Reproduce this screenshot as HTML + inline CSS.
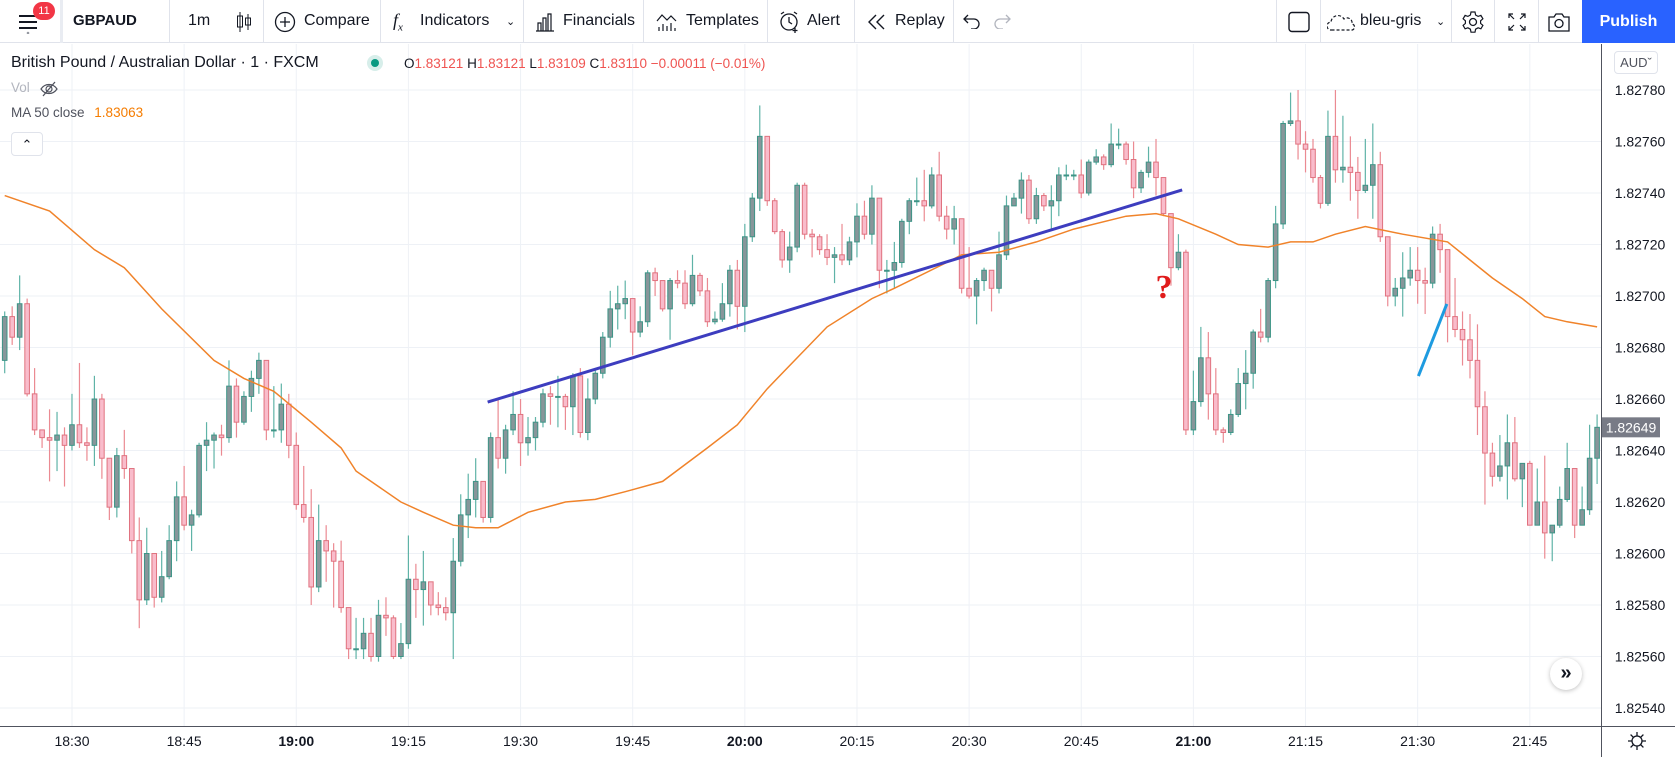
<!DOCTYPE html>
<html><head><meta charset="utf-8">
<style>
*{margin:0;padding:0;box-sizing:border-box}
body{width:1675px;height:757px;overflow:hidden;background:#fff;font-family:"Liberation Sans",sans-serif;color:#131722;position:relative}
.tb{position:absolute;left:0;top:0;width:1675px;height:43px;border-bottom:1px solid #e0e3eb;background:#fff}
.t{position:absolute;top:12px;font-size:16px;white-space:nowrap}
.sep{position:absolute;top:0;width:1px;height:43px;background:#e0e3eb}
.lg{position:absolute;white-space:nowrap}
</style></head><body>
<div class="tb">
  <svg style="position:absolute;left:18px;top:12px" width="22" height="22"><rect x="1" y="3" width="18" height="2" fill="#131722"/><rect x="1" y="9" width="18" height="2" fill="#131722"/><rect x="1" y="15" width="18" height="2" fill="#131722"/><circle cx="10" cy="21" r="1.3" fill="#9598a1"/></svg>
  <div style="position:absolute;left:33px;top:2px;width:22px;height:18px;border-radius:9px;background:#f23645;color:#fff;font-size:11px;text-align:center;line-height:18px">11</div>
  <div class="sep" style="left:60px;width:3px;background:#e9ecf2"></div>
  <span class="t" style="left:73px;font-weight:bold;font-size:15px">GBPAUD</span>
  <div class="sep" style="left:169px"></div>
  <span class="t" style="left:188px">1m</span>
  <svg style="position:absolute;left:236px;top:11px" width="16" height="22"><line x1="4" y1="1" x2="4" y2="21" stroke="#131722"/><rect x="1.5" y="5" width="5" height="11" fill="none" stroke="#131722"/><line x1="12" y1="3" x2="12" y2="19" stroke="#131722"/><rect x="9.5" y="7" width="5" height="7" fill="none" stroke="#131722"/></svg>
  <div class="sep" style="left:263px"></div>
  <svg style="position:absolute;left:274px;top:11px" width="22" height="22"><circle cx="11" cy="11" r="9.5" fill="none" stroke="#131722" stroke-width="1.3"/><path d="M11 6v10M6 11h10" stroke="#131722" stroke-width="1.3"/></svg>
  <span class="t" style="left:304px">Compare</span>
  <div class="sep" style="left:380px"></div>
  <span class="t" style="left:393px;font-style:italic;font-family:'Liberation Serif',serif;font-size:18px;top:10px">f<sub style="font-size:11px">x</sub></span>
  <span class="t" style="left:420px">Indicators</span>
  <span class="t" style="left:506px;font-size:11px;top:15px">&#8964;</span>
  <div class="sep" style="left:523px"></div>
  <svg style="position:absolute;left:535px;top:12px" width="20" height="20"><path d="M1 19h18M3 19V11h3v8M8 19V6h3v13M13 19V2h3v17" fill="none" stroke="#131722" stroke-width="1.2"/></svg>
  <span class="t" style="left:563px">Financials</span>
  <div class="sep" style="left:643px"></div>
  <svg style="position:absolute;left:656px;top:11px" width="22" height="22"><path d="M1 10l5-6 5 5 4-4 5 5" fill="none" stroke="#131722" stroke-width="1.2"/><path d="M3 20v-4M7 20v-7M11 20v-5M15 20v-8M19 20v-3" stroke="#131722" stroke-width="1.2"/></svg>
  <span class="t" style="left:686px">Templates</span>
  <div class="sep" style="left:767px"></div>
  <svg style="position:absolute;left:778px;top:10px" width="24" height="24"><circle cx="11" cy="12" r="8" fill="none" stroke="#131722" stroke-width="1.3"/><path d="M11 7v5l3 2M3 4l3-2M19 4l-3-2M17 18v5M14.5 20.5h5" fill="none" stroke="#131722" stroke-width="1.3"/></svg>
  <span class="t" style="left:807px">Alert</span>
  <div class="sep" style="left:854px"></div>
  <svg style="position:absolute;left:867px;top:13px" width="20" height="18"><path d="M9 2L2 9l7 7M17 2l-7 7 7 7" fill="none" stroke="#131722" stroke-width="1.4"/></svg>
  <span class="t" style="left:895px">Replay</span>
  <div class="sep" style="left:953px"></div>
  <svg style="position:absolute;left:963px;top:13px" width="18" height="16"><path d="M2 6h9a5 5 0 010 10H8M5 2L1 6l4 4" fill="none" stroke="#131722" stroke-width="1.3"/></svg>
  <svg style="position:absolute;left:993px;top:13px" width="18" height="16"><path d="M16 6H7a5 5 0 000 10h3M13 2l4 4-4 4" fill="none" stroke="#b2b5be" stroke-width="1.3"/></svg>
  <div class="sep" style="left:1276px"></div>
  <svg style="position:absolute;left:1287px;top:11px" width="24" height="22"><rect x="2" y="1.5" width="20" height="19" rx="3" fill="none" stroke="#131722" stroke-width="1.4"/></svg>
  <div class="sep" style="left:1320px"></div>
  <svg style="position:absolute;left:1327px;top:12px" width="30" height="20"><path d="M6 18H4a4 4 0 010-8 7 7 0 0113-3 5 5 0 018 5 3 3 0 01-1 6z" fill="none" stroke="#131722" stroke-width="1.2" stroke-dasharray="3 2"/></svg>
  <span class="t" style="left:1360px">bleu-gris</span>
  <span class="t" style="left:1436px;font-size:11px;top:15px">&#8964;</span>
  <div class="sep" style="left:1451px"></div>
  <svg style="position:absolute;left:1461px;top:10px" width="24" height="24"><circle cx="12" cy="12" r="3.5" fill="none" stroke="#131722" stroke-width="1.3"/><path d="M10 2h4l.6 3 2.5 1.4 2.8-1 2 3.4-2.3 2v2.6l2.3 2-2 3.4-2.8-1-2.5 1.4-.6 3h-4l-.6-3-2.5-1.4-2.8 1-2-3.4 2.3-2V10.8l-2.3-2 2-3.4 2.8 1L9.4 5z" fill="none" stroke="#131722" stroke-width="1.2"/></svg>
  <div class="sep" style="left:1494px"></div>
  <svg style="position:absolute;left:1507px;top:12px" width="20" height="20"><path d="M2 6V2h4M2 2l5 5M18 6V2h-4M18 2l-5 5M2 14v4h4M2 18l5-5M18 14v4h-4M18 18l-5-5" fill="none" stroke="#131722" stroke-width="1.2"/></svg>
  <div class="sep" style="left:1538px"></div>
  <svg style="position:absolute;left:1547px;top:11px" width="24" height="22"><path d="M2 6h5l2-3h6l2 3h5v14H2z" fill="none" stroke="#131722" stroke-width="1.3"/><circle cx="12" cy="12.5" r="4" fill="none" stroke="#131722" stroke-width="1.3"/></svg>
  <div style="position:absolute;left:1582px;top:0;width:93px;height:43px;background:#2962ff;color:#fff;font-size:16px;font-weight:bold;text-align:center;line-height:43px">Publish</div>
</div>

<svg id="chart" style="position:absolute;left:0;top:44px" width="1675" height="713" viewBox="0 44 1675 713"></svg>

<div class="lg" style="left:11px;top:54px;font-size:16px">British Pound / Australian Dollar · 1 · FXCM</div>
<div style="position:absolute;left:367px;top:55px;width:16px;height:16px;border-radius:8px;background:#d7eeea"><div style="position:absolute;left:4px;top:4px;width:8px;height:8px;border-radius:4px;background:#089981"></div></div>
<div class="lg" style="left:404px;top:56px;font-size:13.5px">O<span style="color:#ef5350">1.83121</span> H<span style="color:#ef5350">1.83121</span> L<span style="color:#ef5350">1.83109</span> C<span style="color:#ef5350">1.83110</span> <span style="color:#ef5350">−0.00011 (−0.01%)</span></div>
<div class="lg" style="left:11px;top:80px;font-size:13.5px;color:#b2b5be">Vol</div>
<svg style="position:absolute;left:40px;top:80px" width="18" height="18"><path d="M1 9c4-6 12-6 16 0-4 6-12 6-16 0z" fill="none" stroke="#50535e" stroke-width="1.2"/><circle cx="9" cy="9" r="3" fill="none" stroke="#50535e" stroke-width="1.2"/><path d="M3 16L15 2" stroke="#50535e" stroke-width="1.3"/></svg>
<div class="lg" style="left:11px;top:105px;font-size:13.5px;color:#50535e">MA 50 close <span style="color:#f57c00;margin-left:6px">1.83063</span></div>
<div style="position:absolute;left:11px;top:132px;width:32px;height:24px;border:1px solid #e0e3eb;border-radius:4px;background:#fff;text-align:center;font-size:13px;line-height:24px">&#8963;</div>
<div style="position:absolute;left:1614px;top:51px;width:44px;height:23px;border:1px solid #e0e3eb;border-radius:4px;background:#fff;font-size:13px;color:#50535e;text-align:center;line-height:21px">AUD&#711;</div>
<div style="position:absolute;left:1550px;top:658px;width:32px;height:32px;border-radius:16px;background:#fff;box-shadow:0 1px 5px rgba(0,0,0,.25);text-align:center;line-height:30px;font-size:20px;font-weight:bold;color:#131722">&#187;</div>

<script>
const firstOpen = 175;
const closes = [192,184,197,162,148,145,144,146,142,150,143,142,160,137,118,138,133,105,82,100,83,91,105,122,111,115,142,144,146,145,165,151,161,168,175,148,148,158,142,119,114,87,105,101,97,79,63,63,69,60,76,75,60,65,90,86,89,80,79,77,97,115,121,128,114,145,137,148,154,143,145,151,162,161,161,157,169,147,160,170,184,195,197,199,186,190,209,206,195,206,205,197,208,202,190,191,197,210,196,223,238,262,237,225,214,219,243,224,223,218,215,216,214,221,231,224,238,210,210,213,229,237,237,235,247,231,226,230,203,200,206,210,203,216,235,238,245,230,239,235,237,247,247,247,240,252,254,251,259,259,253,242,248,252,246,232,211,217,148,159,176,162,148,147,154,166,170,186,184,206,228,267,268,259,257,246,236,262,249,250,248,241,243,251,223,200,203,207,210,206,205,224,218,192,187,183,175,157,139,130,134,143,129,135,111,120,108,111,121,133,111,117,137,149];
const highs = [194,196,208,199,172,148,156,155,149,162,174,149,169,162,137,141,148,133,114,110,100,101,111,128,134,117,143,151,147,150,175,168,163,171,178,175,165,166,162,147,134,125,119,111,104,105,79,75,75,75,82,83,76,73,107,96,101,89,85,83,106,123,131,137,128,147,160,150,163,160,153,153,164,165,169,162,170,172,168,172,186,202,204,206,199,196,210,211,206,207,210,210,216,209,207,194,205,212,214,228,240,274,262,238,226,225,244,244,226,224,224,219,228,223,236,237,243,238,214,221,230,238,246,249,250,256,235,235,230,219,207,211,210,225,239,240,248,247,242,240,243,250,251,249,253,253,257,255,267,265,260,260,249,258,261,246,232,224,218,171,188,186,172,149,156,172,179,187,195,207,235,268,279,280,264,261,247,272,280,270,262,254,261,267,256,223,207,217,219,219,211,227,228,218,207,194,193,189,163,143,146,154,153,135,136,133,138,111,126,143,133,126,150,154];
const lows = [170,181,179,161,146,141,128,132,126,140,141,136,134,129,113,114,129,100,71,80,79,81,90,97,109,101,114,132,133,138,143,145,150,155,162,144,145,143,137,117,112,80,85,89,79,77,59,59,59,58,58,68,59,59,63,75,72,76,76,74,59,95,106,114,112,112,133,131,146,134,138,140,149,150,149,148,146,145,144,158,168,180,187,191,177,184,188,200,194,183,203,195,196,200,188,189,190,192,187,186,221,233,235,224,211,209,217,222,215,216,212,205,212,212,215,222,220,203,201,203,211,224,235,229,234,229,222,220,201,199,189,202,194,201,214,235,232,228,228,233,226,231,245,245,238,239,251,249,250,257,251,238,240,246,239,231,204,210,146,146,157,152,146,143,146,153,156,164,182,182,203,226,266,253,248,244,234,235,244,244,237,230,240,230,221,196,196,192,204,197,193,203,209,182,184,173,168,146,119,126,128,121,128,118,111,111,98,97,110,120,106,111,115,127];
const maIndex = [0,6,12,16,21,28,32,36,41,45,47,53,56,60,63,66,70,75,79,83,88,94,98,102,105,110,116,119,126,128,133,138,143,150,154,157,162,165,169,172,175,178,182,187,193,196,199,203,206,209,213];
const maValue = [239,233,218,211,195,175,168,163,151,141,132,120,116,111,110,110,116,120,121,124,128,141,150,164,173,188,199,203,213,216,217,221,226,231,232,230,224,220,219,221,221,224,227,224,221,214,207,199,192,190,188];
const priceTickValues = [280,260,240,220,200,180,160,140,120,100,80,60,40];
const priceTickLabels = ["1.82780","1.82760","1.82740","1.82720","1.82700","1.82680","1.82660","1.82640","1.82620","1.82600","1.82580","1.82560","1.82540"];
const timeTickIndex = [9,24,39,54,69,84,99,114,129,144,159,174,189,204];
const timeTickLabels = ["18:30","18:45","19:00","19:15","19:30","19:45","20:00","20:15","20:30","20:45","21:00","21:15","21:30","21:45"];
const trendStart = [64.6,158.8];
const trendEnd = [157.5,241.2];
const rayStart = [189.1,168.9];
const rayEnd = [192.9,196.9];
const lastPrice = 149;
const lastPriceLabel = "1.82649";

const NS = "http://www.w3.org/2000/svg";
const svg = document.getElementById('chart');
const xc = i => 4.7 + 7.476 * i;
const yv = v => 90 + (280 - v) * 2.575;
function mk(tag, attrs, parent) {
  const e = document.createElementNS(NS, tag);
  for (const k in attrs) e.setAttribute(k, attrs[k]);
  (parent || svg).appendChild(e);
  return e;
}
const gridG = mk('g', {});


priceTickValues.forEach((v, k) => {
  const l = mk('line', {x1: 0, x2: 1601, y1: yv(v), y2: yv(v), stroke: '#eef1f6', 'stroke-width': 1}, gridG);
  
  
  const t = mk('text', {x: 1640, y: yv(v) + 5, 'text-anchor': 'middle', 'font-size': 14, fill: '#131722', 'font-family': 'Liberation Sans, sans-serif'});
  t.textContent = priceTickLabels[k];
  
  
});
timeTickIndex.forEach((ti, k) => {
  const l = mk('line', {x1: xc(ti), x2: xc(ti), y1: 44, y2: 726, stroke: '#eef1f6', 'stroke-width': 1}, gridG);
  
  
  const bold = timeTickLabels[k].endsWith(':00');
  const t = mk('text', {x: xc(ti), y: 746, 'text-anchor': 'middle', 'font-size': 14, fill: '#131722', 'font-weight': bold ? 'bold' : 'normal', 'font-family': 'Liberation Sans, sans-serif'});
  t.textContent = timeTickLabels[k];
  
  
});
const cg = mk('g', {});


closes.forEach((c, i) => {
  const o = i === 0 ? firstOpen : closes[i - 1];
  const h = Math.max(highs[i], o, c), lo = Math.min(lows[i], o, c);
  const bull = c >= o;
  const g = mk('g', {}, cg);
  
  
  const x = xc(i);
  mk('line', {x1: x, x2: x, y1: yv(h), y2: yv(lo), stroke: bull ? '#5fb3a7' : '#eb8a92', 'stroke-width': 1.2}, g);
  const top = yv(Math.max(o, c)), bot = yv(Math.min(o, c));
  mk('rect', {x: x - 2.3, y: top, width: 4.6, height: Math.max(1, bot - top), fill: bull ? '#87969a' : '#f9bccb', stroke: bull ? '#3d9486' : '#e0727f', 'stroke-width': 1}, g);
});
let d = '';
maIndex.forEach((ix, k) => { d += (k ? 'L' : 'M') + xc(ix).toFixed(1) + ' ' + yv(maValue[k]).toFixed(1); });
const ma = mk('path', {d: d, fill: 'none', stroke: '#f0832a', 'stroke-width': 1.5});


const tl = mk('line', {x1: xc(trendStart[0]), y1: yv(trendStart[1]), x2: xc(trendEnd[0]), y2: yv(trendEnd[1]), stroke: '#3d3dbf', 'stroke-width': 3});


const rl = mk('line', {x1: xc(rayStart[0]), y1: yv(rayStart[1]), x2: xc(rayEnd[0]), y2: yv(rayEnd[1]), stroke: '#1e9be0', 'stroke-width': 3});


const q = mk('text', {x: 1164, y: 298, 'text-anchor': 'middle', 'font-size': 34, 'font-weight': 'bold', fill: '#e01b1b', 'font-family': 'Liberation Serif, serif'});
q.textContent = '?';


const ax = mk('line', {x1: 1601.5, x2: 1601.5, y1: 44, y2: 757, stroke: '#50535e', 'stroke-width': 1});


const tx = mk('line', {x1: 0, x2: 1675, y1: 726.5, y2: 726.5, stroke: '#50535e', 'stroke-width': 1});


const pl = mk('rect', {x: 1602, y: yv(lastPrice) - 10, width: 58, height: 20, fill: '#787b86'});


const plt = mk('text', {x: 1631, y: yv(lastPrice) + 5, 'text-anchor': 'middle', 'font-size': 14, fill: '#fff', 'font-family': 'Liberation Sans, sans-serif'});
plt.textContent = lastPriceLabel;


const gear = mk('g', {transform: 'translate(1637,741)'});


mk('circle', {cx: 0, cy: 0, r: 5, fill: 'none', stroke: '#131722', 'stroke-width': 1.3}, gear);
mk('path', {d: 'M0 -9V-5M0 5V9M-9 0H-5M5 0H9M-6.4 -6.4L-3.5 -3.5M3.5 3.5L6.4 6.4M-6.4 6.4L-3.5 3.5M3.5 -3.5L6.4 -6.4', stroke: '#131722', 'stroke-width': 1.3}, gear);
</script>
</body></html>
